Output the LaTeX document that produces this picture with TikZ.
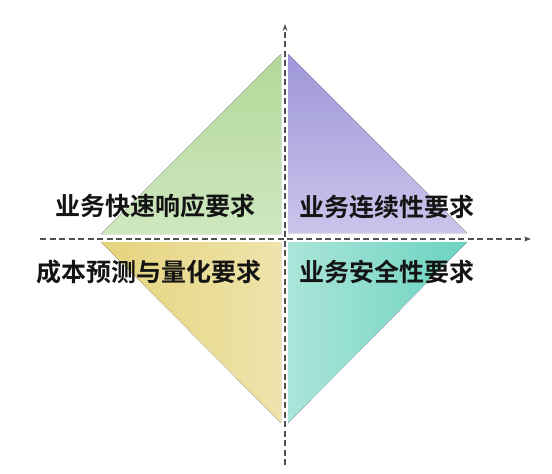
\documentclass[tikz,border=0pt]{standalone}
\usepackage{fontspec}
\newfontfamily\cjk{Noto Sans CJK SC}[BoldFont={Noto Sans CJK SC Bold}]
\usetikzlibrary{arrows.meta}
\definecolor{gtop}{RGB}{178,216,152}
\definecolor{gbot}{RGB}{206,231,192}
\definecolor{ptop}{RGB}{158,150,216}
\definecolor{pbot}{RGB}{201,197,235}
\definecolor{yleft}{RGB}{229,211,124}
\definecolor{yright}{RGB}{238,228,172}
\definecolor{tleft}{RGB}{170,229,217}
\definecolor{tright}{RGB}{108,211,192}
\definecolor{axisc}{RGB}{80,80,80}
\tikzset{
  axisline/.style={draw=axisc, line width=1.1pt, dash pattern=on 6pt off 3.5pt, -{Stealth[length=7pt,width=5pt]}},
  label/.style={font=\cjk\bfseries\fontsize{25}{29}\selectfont, text=black!92, inner sep=0pt}
}
\begin{document}
\begin{tikzpicture}[x=1pt,y=-1pt]
\useasboundingbox (0,0) rectangle (552,474);
% quadrants
\fill[top color=gtop, bottom color=gbot] (101,234) -- (281,54) -- (281,234) -- cycle;
\fill[top color=ptop, bottom color=pbot] (288,54) -- (467,233) -- (288,233) -- cycle;
\fill[left color=yleft, right color=yright] (101,242) -- (281,242) -- (281,423) -- cycle;
\fill[left color=tleft, right color=tright] (288,242) -- (467,242) -- (288,423) -- cycle;
% axes
\coordinate (vb) at (285,465);
\coordinate (vt) at (285,24);
\coordinate (hl) at (40,239);
\coordinate (hr) at (531,239);
\draw[axisline] (vb) -- (vt);
\draw[axisline] (hl) -- (hr);
% labels
\node[label] (q1) at (156,206) {业务快速响应要求};
\node[label] (q2) at (387,207) {业务连续性要求};
\node[label] (q3) at (149,272) {成本预测与量化要求};
\node[label] (q4) at (387,272) {业务安全性要求};
\end{tikzpicture}
\end{document}
